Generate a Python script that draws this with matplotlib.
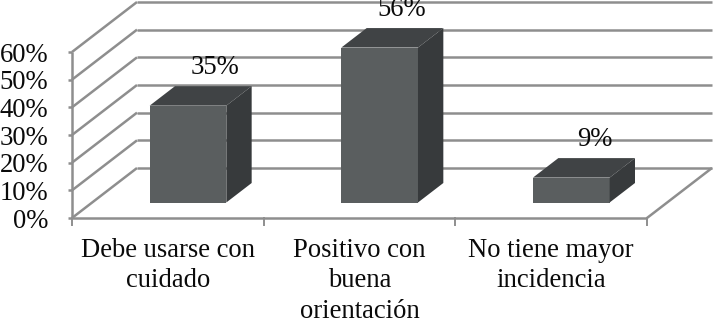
import matplotlib
matplotlib.use('Agg')
import matplotlib.pyplot as plt
from matplotlib.patches import Polygon

# datos
categorias = ['Debe usarse con\ncuidado', 'Positivo con\nbuena\norientación', 'No tiene mayor\nincidencia']
valores = [35, 56, 9]
etiquetas = ['35%', '56%', '9%']
ticks_y = [0, 10, 20, 30, 40, 50, 60]

plt.rcParams['font.family'] = ['Liberation Serif', 'DejaVu Serif']

W, H = 714, 319
fig = plt.figure(figsize=(W / 100, H / 100), dpi=100)
# el plano frontal del grafico 3D, en pixeles de la imagen
ax = fig.add_axes([72 / W, 1 - 218 / H, 575 / W, 166 / H])
ax.set_xlim(0, 3)
ax.set_ylim(0, 60)
ax.axis('off')

# profundidad oblicua en unidades de datos
prof_x = 65 / (575 / 3)
prof_y = 50 / (166 / 60)
gris = '#8e8e8e'
ancho = 0.4
z0, z1 = 0.31, 0.70
tam = 19.2
desp_x = [0.01, -0.017, -0.009]


def p(x, y, z=0.0):
    return (x + prof_x * z, y + prof_y * z)


def linea(a, b, lw=1.8, color=gris):
    ax.plot([a[0], b[0]], [a[1], b[1]], color=color, lw=lw, clip_on=False,
            solid_capstyle='butt', zorder=1)


# paredes y rejilla
for t in ticks_y:
    linea(p(0, t), p(0, t, 1))
    linea(p(0, t, 1), p(3, t, 1))
    linea(p(-0.02, t), p(0, t))
linea(p(0, 0), p(0, 60))
linea(p(0, 0), p(3, 0))
linea(p(3, 0), p(3, 0, 1))
for i in range(4):
    ax.plot([i, i], [0, -2.6], color=gris, lw=1.4, clip_on=False, zorder=1)

# barras
for i, v in enumerate(valores):
    c = i + 0.5
    x0, x1 = c - ancho / 2, c + ancho / 2
    frente = [p(x0, 0, z0), p(x1, 0, z0), p(x1, v, z0), p(x0, v, z0)]
    tapa = [p(x0, v, z0), p(x1, v, z0), p(x1, v, z1), p(x0, v, z1)]
    lado = [p(x1, 0, z0), p(x1, 0, z1), p(x1, v, z1), p(x1, v, z0)]
    ax.add_patch(Polygon(frente, fc='#5a5e5f', ec='none', clip_on=False, zorder=3))
    ax.add_patch(Polygon(tapa, fc='#404345', ec='none', clip_on=False, zorder=3))
    ax.add_patch(Polygon(lado, fc='#373a3c', ec='none', clip_on=False, zorder=3))
    lx, ly = p(c, v, z1)
    ax.text(lx + desp_x[i], ly + 6.6, etiquetas[i], ha='center', va='center', fontsize=tam,
            color='#0a0a0a', clip_on=False, zorder=4)

# etiquetas de los ejes
for t in ticks_y:
    ax.text(-0.125, t - 1.2, f'{t}%', ha='right', va='center', fontsize=tam, color='#0a0a0a', clip_on=False)
for i, nombre in enumerate(categorias):
    ax.text(i + 0.5, -7.2, nombre, ha='center', va='top', fontsize=tam, color='#0a0a0a',
            linespacing=1.28, clip_on=False)

fig.savefig('out.png', dpi=100)
